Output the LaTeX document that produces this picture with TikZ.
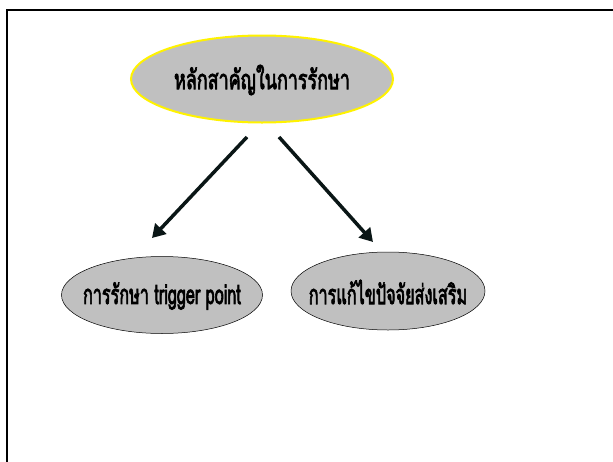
\documentclass[tikz,border=0pt]{standalone}
\usepackage{fontspec}
\usepackage{graphicx}
\newfontfamily\thaifont[Script=Thai,FakeBold=3.5]{Loma}
\usetikzlibrary{shapes.geometric,arrows.meta}
\definecolor{fillgray}{RGB}{192,192,192}
\definecolor{arrowdark}{RGB}{10,22,22}
\begin{document}
\begin{tikzpicture}[x=1pt,y=-1pt,
  oval/.style={ellipse,fill=fillgray,inner sep=0pt,outer sep=0pt},
  lbl/.style={inner sep=0pt,font=\thaifont\fontsize{27}{30}\selectfont},
  link/.style={draw=arrowdark,line width=3.5pt,-{Triangle[length=13pt,width=15pt]}}]
\useasboundingbox (0,0) rectangle (613,461);
\draw[line width=2pt] (7,470) -- (7,10) -- (620,10);
\node[oval,draw=yellow,line width=2pt,minimum width=262pt,minimum height=87pt] (top) at (262,79) {};
\node[lbl] (topt) at (262,80) {\scalebox{0.664}[1]{หลักสาคัญในการรักษา}};
\node[oval,draw=black,line width=0.5pt,minimum width=201pt,minimum height=77pt] (left) at (162,295) {};
\node[lbl] (leftt) at (162,296) {\scalebox{0.60}[1]{การรักษา trigger point}};
\node[oval,draw=black,line width=0.5pt,minimum width=194pt,minimum height=78pt] (right) at (388,291) {};
\node[lbl] (rightt) at (388,292) {\scalebox{0.60}[1]{การแก้ไขปัจจัยส่งเสริม}};
\coordinate (a1) at (247,137);
\coordinate (a2) at (152,238);
\coordinate (b1) at (279,137);
\coordinate (b2) at (373,242);
\draw[link] (a1) -- (a2);
\draw[link] (b1) -- (b2);
\end{tikzpicture}
\end{document}
